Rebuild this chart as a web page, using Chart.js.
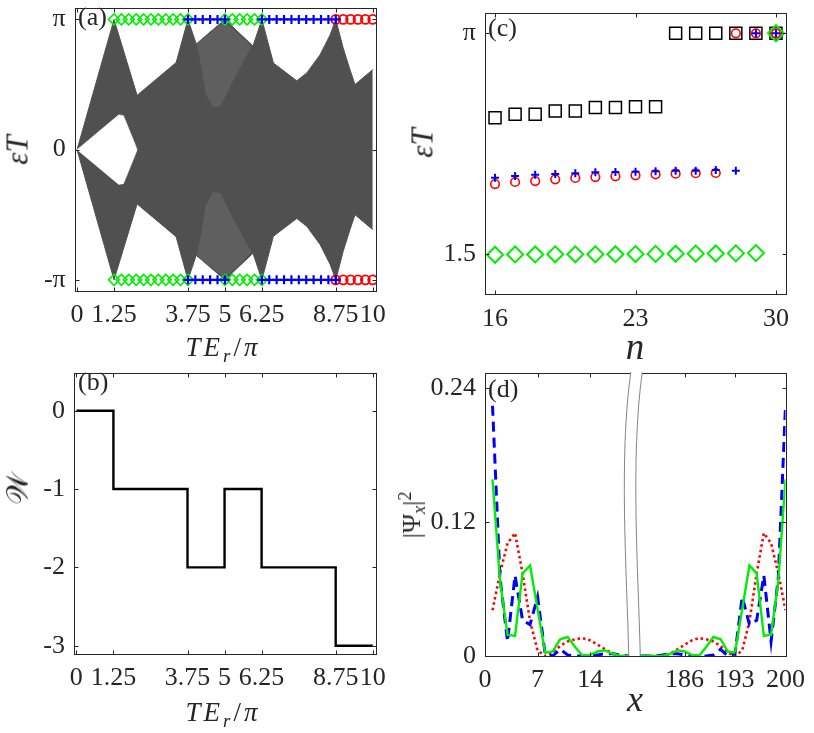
<!DOCTYPE html>
<html>
<head>
<meta charset="utf-8">
<script src="https://cdn.jsdelivr.net/npm/chart.js@4.4.0/dist/chart.umd.min.js"></script>
<style>
  body { margin: 0; background: #fff; width: 814px; height: 733px; position: relative; overflow: hidden;
         font-family: "Liberation Serif", "DejaVu Serif", serif; color: #262626; }
  canvas { position: absolute; }
  .lbl { position: absolute; transform: translate(-50%, -50%); white-space: nowrap; line-height: 1; }
  .rot { transform: translate(-50%, -50%) rotate(-90deg); }
  .tag { position: absolute; font-size: 26px; line-height: 1; }
  .sb { font-size: 0.7em; position: relative; top: 0.3em; }
  .sp { font-size: 0.7em; position: relative; top: -0.5em; }
</style>
</head>
<body>
<canvas id="ca" width="400" height="340" style="left:0;top:0"></canvas>
<canvas id="cb" width="400" height="373" style="left:0;top:360px"></canvas>
<canvas id="cc" width="414" height="340" style="left:400px;top:0"></canvas>
<canvas id="cd" width="414" height="373" style="left:400px;top:360px"></canvas>

<div class="tag" style="left:78px;top:4px">(a)</div>
<div class="tag" style="left:78px;top:369px">(b)</div>
<div class="tag" style="left:488px;top:15px">(c)</div>
<div class="tag" style="left:488px;top:376px">(d)</div>

<div class="lbl rot" style="left:17px;top:150px;font-size:31px"><i>εT</i></div>
<div class="lbl" style="left:223px;top:347px;font-size:27px;letter-spacing:3px"><i>TE</i><span class="sb"><i>r</i></span>/<i>π</i></div>
<div class="lbl rot" style="left:18px;top:489px;font-size:30px">𝒲</div>
<div class="lbl" style="left:223px;top:712px;font-size:27px;letter-spacing:3px"><i>TE</i><span class="sb"><i>r</i></span>/<i>π</i></div>
<div class="lbl rot" style="left:422px;top:143px;font-size:31px"><i>εT</i></div>
<div class="lbl" style="left:635px;top:346px;font-size:37px"><i>n</i></div>
<div class="lbl rot" style="left:412px;top:515px;font-size:26px">|Ψ<span class="sb"><i>x</i></span>|<span class="sp">2</span></div>
<div class="lbl" style="left:635px;top:699px;font-size:36px"><i>x</i></div>

<script>
const PI = Math.PI;

// (a) quasienergy band envelope, central gap and edge states
const bandX = [0, 1.25, 2.03, 3.35, 3.42, 3.75, 4.03, 5.00, 5.95, 6.25, 6.64, 7.43, 7.77, 8.22, 8.56, 8.75, 9.00, 9.23, 9.40, 10.00];
const bandTop = [0, PI, 1.31, 2.10, 2.28, PI, 2.55, PI, 2.50, PI, 2.09, 1.66, 1.85, 2.29, 2.77, PI, 2.45, 1.93, 1.57, 1.93];
const bandBottom = [0, -PI, -1.31, -2.10, -2.28, -PI, -2.55, -PI, -2.50, -PI, -2.09, -1.66, -1.85, -2.29, -2.77, -PI, -2.45, -1.93, -1.57, -1.93];
const gapX = [0, 1.41, 1.57, 1.97, 2.03];
const gapTop = [0, 0.84, 0.82, 0.12, 0];
const gapBottom = [0, -0.84, -0.82, -0.12, 0];
const hatchX = [4.05, 4.20, 4.35, 4.60, 4.85, 5.30, 5.90, 5.00, 4.05];
const hatchTop = [2.55, 2.00, 1.35, 1.02, 1.05, 1.70, 2.48, 3.10, 2.55];
const hatchBottom = [-2.55, -2.00, -1.35, -1.02, -1.05, -1.70, -2.48, -3.10, -2.55];
const greenTE = [1.25, 1.5, 1.75, 2, 2.25, 2.5, 2.75, 3, 3.25, 3.5, 3.75, 5, 5.25, 5.5, 5.75, 6, 6.25];
const blueTE = [3.75, 4, 4.25, 4.5, 4.75, 5, 6.25, 6.5, 6.75, 7, 7.25, 7.5, 7.75, 8, 8.25, 8.5, 8.75];
const redTE = [8.75, 9, 9.25, 9.5, 9.75, 10];
const teTicks = [0, 1.25, 3.75, 5, 6.25, 8.75, 10];
const teLabels = ['0', '1.25', '3.75', '5', '6.25', '8.75', '10'];

// (b) winding number
const stepX = [0, 1.25, 3.75, 5, 6.25, 8.75, 10];
const windingW = [0, -1, -2, -1, -2, -3, -3];

// (c) eigenphases vs n
const nVals = [16, 17, 18, 19, 20, 21, 22, 23, 24, 25, 26, 27, 28, 29, 30];
const squareY = [2.515, 2.540, 2.540, 2.565, 2.565, 2.590, 2.590, 2.596, 2.596, PI, PI, PI, PI, PI, PI];
const circleY = [2.022, 2.037, 2.044, 2.057, 2.067, 2.074, 2.079, 2.087, 2.094, 2.099, 2.102, 2.104, PI, PI, PI];
const plusY = [2.069, 2.082, 2.091, 2.096, 2.102, 2.109, 2.111, 2.114, 2.116, 2.121, 2.121, 2.126, 2.121, PI, PI];
const diamondY = [1.497, 1.499, 1.499, 1.500, 1.500, 1.500, 1.501, 1.502, 1.503, 1.504, 1.505, 1.506, 1.507, 1.509, PI];

// (d) edge-state profiles, broken x axis
const xLeft = [1, 2, 3, 4, 5, 6, 7, 8, 9, 10, 11, 12, 13, 14, 15, 16, 17, 18, 19, 20];
const xRight = [181, 182, 183, 184, 185, 186, 187, 188, 189, 190, 191, 192, 193, 194, 195, 196, 197, 198, 199, 200];
const greenLeft = [0.158, 0.067, 0.019, 0.018, 0.074, 0.081, 0.042, 0.003, 0.004, 0.015, 0.017, 0.008, 0.000, 0.001, 0.004, 0.005, 0.002, 0.000, 0.000, 0.000];
const greenRight = [0.000, 0.000, 0.000, 0.002, 0.005, 0.004, 0.001, 0.000, 0.008, 0.017, 0.015, 0.004, 0.003, 0.042, 0.081, 0.074, 0.018, 0.019, 0.067, 0.158];
const redLeft = [0.041, 0.074, 0.101, 0.110, 0.074, 0.031, 0.005, 0.000, 0.003, 0.009, 0.013, 0.015, 0.016, 0.014, 0.010, 0.006, 0.002, 0.000, 0.000, 0.000];
const redRight = [0.000, 0.000, 0.000, 0.002, 0.006, 0.010, 0.014, 0.016, 0.015, 0.013, 0.009, 0.003, 0.000, 0.005, 0.031, 0.074, 0.110, 0.101, 0.074, 0.041];
const blueLeft = [0.224, 0.070, 0.013, 0.072, 0.032, 0.028, 0.053, 0.002, 0.000, 0.006, 0.001, 0.000, 0.000, 0.000, 0.001, 0.002, 0.002, 0.001, 0.000, 0.000];
const blueRight = [0.000, 0.000, 0.001, 0.002, 0.002, 0.001, 0.000, 0.000, 0.000, 0.001, 0.006, 0.000, 0.002, 0.053, 0.028, 0.032, 0.072, 0.013, 0.070, 0.224];
const xTicks = [0, 7, 14, 186, 193, 200];
const psiTicks = [0, 0.12, 0.24];

const GREEN = '#00ee00', RED = '#ff0000', BLUE = '#0000ff', GRAY = '#505050';

Chart.defaults.font.family = '"Liberation Serif", "DejaVu Serif", serif';
Chart.defaults.font.size = 26;
Chart.defaults.color = '#262626';
Chart.defaults.animation = false;
Chart.defaults.plugins.legend.display = false;
Chart.defaults.plugins.tooltip.enabled = false;
Chart.defaults.elements.point.radius = 0;
Chart.defaults.elements.line.tension = 0;

const pts = (xs, ys) => xs.map((x, i) => ({ x: x, y: ys[i] }));
// broken axis: 0..20 kept, 180..200 squeezed next to it
const brk = x => (x <= 20 ? x : 40 - (200 - x) * 0.96);

function axis(min, max, values, labels, size, isX) {
  return {
    type: 'linear', min: min, max: max,
    grid: { display: false, drawTicks: false },
    border: { display: false },
    afterBuildTicks: s => { s.ticks = values.map(v => ({ value: v })); },
    afterFit: s => {
      if (isX) { s.height = size; }
      else { s.width = size; s.paddingTop = 0; s.paddingBottom = 0; }
    },
    ticks: { autoSkip: false, maxRotation: 0, minRotation: 0, padding: 9,
             callback: (v, i) => labels[i] }
  };
}

// box round the plot with inward ticks on every side
const boxPlugin = {
  id: 'box',
  afterDraw(chart) {
    const { ctx, chartArea: a, scales } = chart;
    const l = Math.round(a.left) + 0.5, r = Math.round(a.right) + 0.5;
    const t = Math.round(a.top) + 0.5, b = Math.round(a.bottom) + 0.5;
    ctx.save();
    ctx.strokeStyle = '#262626';
    ctx.lineWidth = 1;
    ctx.strokeRect(l, t, r - l, b - t);
    ctx.beginPath();
    scales.x.ticks.forEach(tk => {
      const px = Math.round(scales.x.getPixelForValue(tk.value)) + 0.5;
      ctx.moveTo(px, b); ctx.lineTo(px, b - 4);
      ctx.moveTo(px, t); ctx.lineTo(px, t + 4);
    });
    scales.y.ticks.forEach(tk => {
      const py = Math.round(scales.y.getPixelForValue(tk.value)) + 0.5;
      ctx.moveTo(l, py); ctx.lineTo(l + 4, py);
      ctx.moveTo(r, py); ctx.lineTo(r - 4, py);
    });
    ctx.stroke();
    ctx.restore();
  }
};

// wavy break band for panel (d)
const breakPlugin = {
  id: 'brk',
  afterDraw(chart) {
    const { ctx, chartArea: a, scales } = chart;
    const c = scales.x.getPixelForValue(19.67);
    const top = a.top - 1, bot = a.bottom, h = bot - top, w = 11.5;
    const curve = (dx, start) => {
      if (start) ctx.moveTo(c + dx - 2, top);
      ctx.bezierCurveTo(c + dx - 14, top + 0.3 * h, c + dx - 6, top + 0.7 * h, c + dx - 4, bot);
    };
    ctx.save();
    ctx.beginPath();
    curve(0, true);
    ctx.lineTo(c + w - 4, bot);
    ctx.bezierCurveTo(c + w - 6, top + 0.7 * h, c + w - 14, top + 0.3 * h, c + w - 2, top);
    ctx.closePath();
    ctx.fillStyle = '#fff';
    ctx.fill();
    ctx.strokeStyle = '#666';
    ctx.lineWidth = 0.8;
    ctx.beginPath(); curve(0, true); ctx.stroke();
    ctx.beginPath(); curve(w, true); ctx.stroke();
    ctx.restore();
  }
};

function markers(xs, y, style, color, r, bw, order) {
  return { data: xs.map(x => ({ x: x, y: y })), showLine: false, pointStyle: style,
           pointRadius: r, pointBorderWidth: bw, pointBorderColor: color,
           pointBackgroundColor: 'rgba(0,0,0,0)', borderColor: color, order: order };
}

// (a)
new Chart(document.getElementById('ca'), {
  type: 'line',
  data: { datasets: [
    { data: pts(bandX, bandTop), fill: '+1', backgroundColor: GRAY, borderColor: GRAY, borderWidth: 1, order: 10 },
    { data: pts(bandX, bandBottom), fill: false, borderColor: GRAY, borderWidth: 1, order: 10 },
    { data: pts(gapX, gapTop), fill: '+1', backgroundColor: '#fff', borderColor: '#fff', borderWidth: 0.5, order: 9 },
    { data: pts(gapX, gapBottom), fill: false, borderColor: '#fff', borderWidth: 0.5, order: 9 },
    { data: pts(hatchX, hatchTop), fill: 'shape', backgroundColor: 'rgba(255,255,255,0.09)', borderColor: 'rgba(0,0,0,0)', order: 8 },
    { data: pts(hatchX, hatchBottom), fill: 'shape', backgroundColor: 'rgba(255,255,255,0.09)', borderColor: 'rgba(0,0,0,0)', order: 8 },
    markers(greenTE, PI, 'rectRot', GREEN, 5.5, 1.6, 3),
    markers(greenTE, -PI, 'rectRot', GREEN, 5.5, 1.6, 3),
    markers(redTE, PI, 'circle', RED, 4.5, 1.8, 2),
    markers(redTE, -PI, 'circle', RED, 4.5, 1.8, 2),
    markers(blueTE, PI, 'cross', BLUE, 4.5, 2.2, 1),
    markers(blueTE, -PI, 'cross', BLUE, 4.5, 2.2, 1)
  ] },
  options: {
    responsive: false,
    layout: { padding: { top: 8.3, right: 24, left: 0, bottom: 0 } },
    scales: {
      x: axis(-0.08, 10.11, teTicks, teLabels, 49, true),
      y: axis(-3.41, 3.41, [-PI, 0, PI], ['-π', '0', 'π'], 74.7, false)
    }
  },
  plugins: [boxPlugin]
});

// (b)
new Chart(document.getElementById('cb'), {
  type: 'line',
  data: { datasets: [
    { data: pts(stepX, windingW), stepped: 'before', borderColor: '#000', borderWidth: 2.4, fill: false }
  ] },
  options: {
    responsive: false,
    layout: { padding: { top: 12.7, right: 24, left: 0, bottom: 0 } },
    scales: {
      x: axis(-0.08, 10.11, teTicks, teLabels, 79, true),
      y: axis(-3.106, 0.485, [-3, -2, -1, 0], ['-3', '-2', '-1', '0'], 74, false)
    }
  },
  plugins: [boxPlugin]
});

// (c)
new Chart(document.getElementById('cc'), {
  type: 'scatter',
  data: { datasets: [
    markers([], 0, 'rect', '#000', 8.5, 1.5, 4),
    markers([], 0, 'rectRot', GREEN, 8, 2, 3),
    markers([], 0, 'circle', RED, 4.3, 1.6, 2),
    markers([], 0, 'cross', BLUE, 4, 2, 1)
  ] },
  options: {
    responsive: false,
    layout: { padding: { top: 13.3, right: 28, left: 0, bottom: 0 } },
    scales: {
      x: axis(15.5, 30.5, [16, 23, 30], ['16', '23', '30'], 45.7, true),
      y: axis(1.203, 3.290, [1.5, PI], ['1.5', 'π'], 85, false)
    }
  },
  plugins: [boxPlugin]
});
(function () {
  const ch = Chart.getChart('cc');
  ch.data.datasets[0].data = pts(nVals, squareY);
  ch.data.datasets[1].data = pts(nVals, diamondY);
  ch.data.datasets[2].data = pts(nVals, circleY);
  ch.data.datasets[3].data = pts(nVals, plusY);
  ch.update();
})();

// (d)
const allX = xLeft.concat(xRight).map(brk);
new Chart(document.getElementById('cd'), {
  type: 'line',
  data: { datasets: [
    { data: pts(allX, redLeft.concat(redRight)), borderColor: RED, borderWidth: 2.6, borderDash: [2.5, 3], fill: false, order: 3 },
    { data: pts(allX, blueLeft.concat(blueRight)), borderColor: BLUE, borderWidth: 3, borderDash: [10, 6], fill: false, order: 2 },
    { data: pts(allX, greenLeft.concat(greenRight)), borderColor: GREEN, borderWidth: 2.4, fill: false, order: 1 }
  ] },
  options: {
    responsive: false,
    layout: { padding: { top: 13.3, right: 26, left: 0, bottom: 0 } },
    scales: {
      x: axis(0, 40, xTicks.map(brk), xTicks.map(String), 77, true),
      y: axis(0, 0.253, psiTicks, ['0', '0.12', '0.24'], 85, false)
    }
  },
  plugins: [boxPlugin, breakPlugin]
});
</script>
</body>
</html>
